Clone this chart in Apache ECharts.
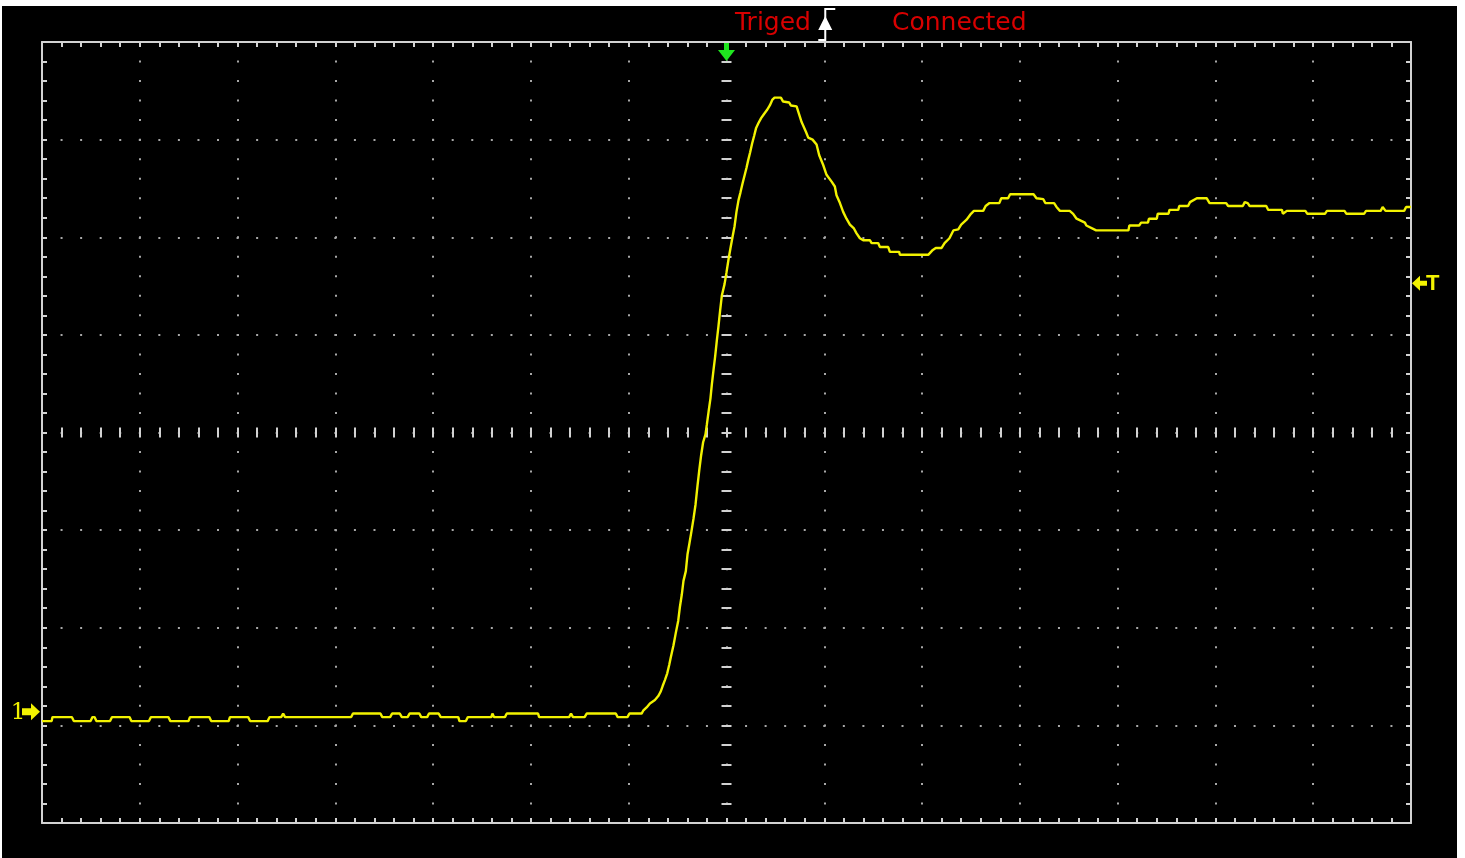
<!DOCTYPE html>
<html>
<head>
<meta charset="utf-8">
<title>Scope</title>
<script src="https://cdn.jsdelivr.net/npm/echarts@6/dist/echarts.min.js"></script>
<style>
html, body { margin: 0; padding: 0; background: #fff; }
#scope { position: absolute; left: 2px; top: 6px; width: 1455px; height: 852px; background: #000; }
</style>
</head>
<body>
<div id="scope"></div>
<script>
// screen: 14 x 8 divisions, 5 minor steps per division
const xDivs = 14
const yDivs = 8
const minorSteps = 5

// channel 1 trace, in divisions (time from centre, level from centre)
// flat part before the edge
const baseTime = [
  -7.000, -6.901, -6.893, -6.695, -6.675, -6.503, -6.484, -6.463, -6.444, -6.304,
  -6.284, -6.105, -6.086, -5.906, -5.886, -5.708, -5.687, -5.502, -5.487, -5.289,
  -5.270, -5.091, -5.078, -4.892, -4.872, -4.693, -4.672, -4.554, -4.534, -4.514,
  -3.838, -3.820, -3.539, -3.520, -3.440, -3.420, -3.341, -3.320, -3.261, -3.241,
  -3.141, -3.122, -3.061, -3.042, -2.943, -2.922, -2.743, -2.731, -2.665, -2.645,
  -2.405, -2.394, -2.378, -2.266, -2.247, -1.927, -1.916, -1.609, -1.590, -1.570,
  -1.451, -1.430, -1.132, -1.113, -1.013, -0.993, -0.868
]
const baseLevel = [
  -2.956, -2.956, -2.915, -2.915, -2.956, -2.956, -2.915, -2.915, -2.956, -2.956,
  -2.915, -2.915, -2.956, -2.956, -2.915, -2.915, -2.956, -2.956, -2.915, -2.915,
  -2.956, -2.956, -2.915, -2.915, -2.956, -2.956, -2.915, -2.915, -2.879, -2.915,
  -2.915, -2.879, -2.879, -2.915, -2.915, -2.879, -2.879, -2.915, -2.915, -2.879,
  -2.879, -2.915, -2.915, -2.879, -2.879, -2.915, -2.915, -2.956, -2.956, -2.915,
  -2.915, -2.879, -2.915, -2.915, -2.879, -2.879, -2.915, -2.915, -2.879, -2.915,
  -2.915, -2.879, -2.879, -2.915, -2.915, -2.879, -2.879
]
// rising edge and overshoot
const riseTime = [
  -0.852, -0.817, -0.783, -0.732, -0.698, -0.674, -0.653, -0.630, -0.606, -0.586,
  -0.569, -0.542, -0.518, -0.494, -0.477, -0.457, -0.440, -0.416, -0.399, -0.378,
  -0.358, -0.337, -0.317, -0.297, -0.279, -0.259, -0.239, -0.215, -0.201, -0.181,
  -0.164, -0.150, -0.133, -0.116, -0.099, -0.082, -0.065, -0.048, -0.020, 0.000,
  0.020, 0.041, 0.061, 0.082, 0.102, 0.123, 0.143, 0.164, 0.184, 0.204,
  0.222, 0.242, 0.262, 0.283, 0.303, 0.327, 0.354, 0.382, 0.412, 0.443,
  0.470, 0.491, 0.556, 0.579, 0.641, 0.658, 0.717, 0.733
]
const riseLevel = [
  -2.850, -2.816, -2.775, -2.740, -2.700, -2.656, -2.597, -2.536, -2.467, -2.382,
  -2.30, -2.18, -2.05, -1.93, -1.79, -1.66, -1.52, -1.42, -1.25, -1.13,
  -1.01, -0.88, -0.74, -0.55, -0.39, -0.23, -0.10, -0.02, 0.08, 0.23,
  0.35, 0.49, 0.64, 0.78, 0.94, 1.09, 1.25, 1.40, 1.52, 1.64,
  1.77, 1.89, 2.00, 2.11, 2.26, 2.38, 2.46, 2.55, 2.63, 2.71,
  2.79, 2.87, 2.96, 3.04, 3.12, 3.17, 3.22, 3.26, 3.30, 3.35,
  3.41, 3.43, 3.43, 3.39, 3.38, 3.35, 3.34, 3.29
]
// ringing and settling
const ringTime = [
  0.768, 0.812, 0.836, 0.880, 0.921, 0.948, 0.989, 1.023, 1.075, 1.108,
  1.125, 1.160, 1.193, 1.227, 1.262, 1.303, 1.330, 1.364, 1.398, 1.466,
  1.484, 1.551, 1.569, 1.654, 1.671, 1.766, 1.773, 2.063, 2.110, 2.140,
  2.200, 2.230, 2.280, 2.320, 2.370, 2.400, 2.455, 2.500, 2.530, 2.625,
  2.650, 2.690, 2.790, 2.810, 2.880, 2.900, 3.140, 3.170, 3.240, 3.260,
  3.350, 3.375, 3.410, 3.510, 3.545, 3.580, 3.665, 3.680, 3.780, 4.110,
  4.120, 4.220, 4.240, 4.310, 4.320, 4.400, 4.410, 4.520, 4.530, 4.620,
  4.630, 4.720, 4.740, 4.810, 4.910, 4.940, 5.110, 5.130, 5.280, 5.300,
  5.330, 5.350, 5.520, 5.540, 5.680, 5.690, 5.730, 5.920, 5.940, 6.120,
  6.140, 6.320, 6.340, 6.520, 6.540, 6.690, 6.710, 6.740, 6.930, 6.950,
  7.000
]
const ringLevel = [
  3.18, 3.08, 3.02, 3.00, 2.95, 2.84, 2.74, 2.64, 2.57, 2.52,
  2.43, 2.35, 2.26, 2.19, 2.13, 2.09, 2.04, 1.99, 1.97, 1.97,
  1.94, 1.94, 1.90, 1.90, 1.85, 1.85, 1.82, 1.82, 1.87, 1.89,
  1.89, 1.94, 1.99, 2.07, 2.08, 2.13, 2.18, 2.24, 2.27, 2.27,
  2.32, 2.35, 2.35, 2.40, 2.40, 2.44, 2.44, 2.40, 2.39, 2.35,
  2.35, 2.31, 2.27, 2.27, 2.24, 2.19, 2.15, 2.12, 2.07, 2.07,
  2.12, 2.12, 2.15, 2.15, 2.19, 2.19, 2.24, 2.24, 2.28, 2.28,
  2.32, 2.32, 2.36, 2.40, 2.40, 2.35, 2.35, 2.32, 2.32, 2.36,
  2.35, 2.32, 2.32, 2.28, 2.28, 2.24, 2.27, 2.27, 2.24, 2.24,
  2.27, 2.27, 2.24, 2.24, 2.27, 2.27, 2.31, 2.27, 2.27, 2.31,
  2.31
]

// markers (divisions)
const ch1Ground = -2.86
const trigLevel = 1.53
const trigPos = 0
const trigEdgeTime = 1.01
const statusTexts = ['Triged', 'Connected']

const frameColor = '#d2d2d2'
const dotColor = '#a8a8a8'
const traceColor = '#f2f200'

const traceTime = baseTime.concat(riseTime, ringTime)
const traceLevel = baseLevel.concat(riseLevel, ringLevel)

const gridLeft = 40
const gridTop = 36
const gridW = 1369
const gridH = 781

function axisBase(dim, pos) {
  const half = (dim === 'x' ? xDivs : yDivs) / 2
  return {
    type: 'value',
    position: pos,
    min: -half,
    max: half,
    interval: 1,
    axisLabel: { show: false },
    splitLine: { show: false },
    axisLine: { show: false, onZero: false }
  }
}
// border axes: solid line with inward minor ticks
function frameAxis(dim, pos) {
  return Object.assign(axisBase(dim, pos), {
    axisLine: { show: true, onZero: false, lineStyle: { color: frameColor, width: 2 } },
    axisTick: { show: true, inside: true, length: 5, lineStyle: { color: frameColor, width: 2 } },
    minorTick: { show: true, splitNumber: minorSteps, length: 5, lineStyle: { color: frameColor, width: 2 } }
  })
}
// centre cross: ticks only, one axis for each side of the line
function centreAxis(dim, pos) {
  return Object.assign(axisBase(dim, pos), {
    axisLine: { show: false, onZero: true, onZeroAxisIndex: 0 },
    axisTick: { show: true, inside: false, length: 5, lineStyle: { color: frameColor, width: 2 } },
    minorTick: { show: true, splitNumber: minorSteps, length: 5, lineStyle: { color: frameColor, width: 2 } }
  })
}

const xMain = frameAxis('x', 'bottom')
xMain.splitLine = {
  show: true,
  lineStyle: { color: dotColor, width: 2, type: [2, gridH / (yDivs * minorSteps) - 2], dashOffset: 1 }
}
const yMain = frameAxis('y', 'left')
yMain.splitLine = {
  show: true,
  lineStyle: { color: dotColor, width: 2, type: [2, gridW / (xDivs * minorSteps) - 2], dashOffset: 1 }
}

const option = {
  animation: false,
  backgroundColor: '#000',
  grid: { left: gridLeft, top: gridTop, width: gridW, height: gridH, containLabel: false },
  xAxis: [xMain, frameAxis('x', 'top'), centreAxis('x', 'bottom'), centreAxis('x', 'top')],
  yAxis: [yMain, frameAxis('y', 'right'), centreAxis('y', 'left'), centreAxis('y', 'right')],
  series: [
    {
      name: 'CH1',
      type: 'line',
      xAxisIndex: 0,
      yAxisIndex: 0,
      data: traceTime.map((t, i) => [t, traceLevel[i]]),
      showSymbol: false,
      symbol: 'none',
      lineStyle: { color: traceColor, width: 2.4 },
      z: 5
    }
  ]
}

const chart = echarts.init(document.getElementById('scope'))
chart.setOption(option)

const pt = (x, y) => chart.convertToPixel({ xAxisIndex: 0, yAxisIndex: 0 }, [x, y])
const [plotLeft, plotTop] = pt(-xDivs / 2, yDivs / 2)
const plotRight = pt(xDivs / 2, 0)[0]
const trigX = pt(trigPos, 0)[0]
const edgeX = pt(trigEdgeTime, 0)[0]
const gndY = pt(0, ch1Ground)[1]
const trigY = pt(0, trigLevel)[1]

chart.setOption({
  graphic: [
    {
      type: 'text', x: 733, y: 17,
      style: { text: statusTexts[0], fill: '#d80000', font: '25px "DejaVu Sans"', verticalAlign: 'middle' }
    },
    {
      type: 'text', x: 890, y: 17,
      style: { text: statusTexts[1], fill: '#d80000', font: '25px "DejaVu Sans"', verticalAlign: 'middle' }
    },
    // rising edge trigger symbol
    {
      type: 'polyline',
      shape: { points: [[edgeX - 7, plotTop - 2], [edgeX, plotTop - 2], [edgeX, plotTop - 33], [edgeX + 10, plotTop - 33]] },
      style: { stroke: '#fff', lineWidth: 2, fill: null }
    },
    {
      type: 'polygon',
      shape: { points: [[edgeX, plotTop - 26], [edgeX - 7, plotTop - 12], [edgeX + 7, plotTop - 12]] },
      style: { fill: '#fff' }
    },
    // trigger position arrow
    {
      type: 'polygon',
      shape: {
        points: [
          [trigX - 2.5, plotTop + 1], [trigX + 2.5, plotTop + 1], [trigX + 2.5, plotTop + 8], [trigX + 8.5, plotTop + 8],
          [trigX, plotTop + 19], [trigX - 8.5, plotTop + 8], [trigX - 2.5, plotTop + 8]
        ]
      },
      style: { fill: '#1fe61f' },
      z: 10
    },
    // channel 1 ground marker
    {
      type: 'polygon',
      shape: {
        points: [
          [plotLeft - 2, gndY], [plotLeft - 11, gndY - 8.5], [plotLeft - 11, gndY - 3.5], [plotLeft - 20, gndY - 3.5],
          [plotLeft - 20, gndY + 3.5], [plotLeft - 11, gndY + 3.5], [plotLeft - 11, gndY + 8.5]
        ]
      },
      style: { fill: traceColor }
    },
    {
      type: 'text', x: plotLeft - 24, y: gndY + 1,
      style: { text: '1', fill: traceColor, font: '23px "DejaVu Serif"', align: 'center', verticalAlign: 'middle' }
    },
    // trigger level marker
    {
      type: 'polygon',
      shape: {
        points: [
          [plotRight + 1, trigY], [plotRight + 9, trigY - 7.5], [plotRight + 9, trigY - 2.5], [plotRight + 16, trigY - 2.5],
          [plotRight + 16, trigY + 2.5], [plotRight + 9, trigY + 2.5], [plotRight + 9, trigY + 7.5]
        ]
      },
      style: { fill: traceColor }
    },
    {
      type: 'text', x: plotRight + 15, y: trigY + 1,
      style: { text: 'T', fill: traceColor, font: 'bold 22px "Liberation Sans"', align: 'left', verticalAlign: 'middle' }
    }
  ]
})
</script>
</body>
</html>
